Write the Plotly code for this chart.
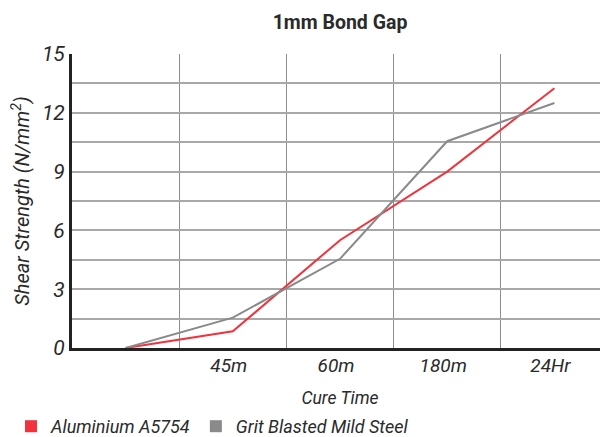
import plotly.graph_objects as go

categories = ["", "45m", "60m", "180m", "24Hr"]
aluminium = [0, 0.85, 5.5, 9.0, 13.25]
grit_steel = [0, 1.55, 4.55, 10.55, 12.5]
y_ticks = [0, 3, 6, 9, 12, 15]

RED = "#f2323c"
GRAY = "#8a8a8a"
FONT = "Liberation Sans Narrow, Roboto, sans-serif"
TXT = "#2a2a2a"

x = list(range(len(categories)))

fig = go.Figure()
fig.add_trace(go.Scatter(x=x, y=aluminium, mode="lines", line=dict(color=RED, width=2),
                         showlegend=False, name="Aluminium A5754"))
fig.add_trace(go.Scatter(x=x, y=grit_steel, mode="lines", line=dict(color=GRAY, width=2),
                         showlegend=False, name="Grit Blasted Mild Steel"))
# legend swatches
fig.add_trace(go.Scatter(x=[None], y=[None], mode="markers",
                         marker=dict(symbol="square", size=15, color=RED),
                         name="Aluminium A5754"))
fig.add_trace(go.Scatter(x=[None], y=[None], mode="markers",
                         marker=dict(symbol="square", size=15, color=GRAY),
                         name="Grit Blasted Mild Steel"))

fig.update_layout(
    width=600, height=437,
    margin=dict(l=64, r=0, t=46, b=97, autoexpand=False),
    paper_bgcolor="white", plot_bgcolor="white",
    font=dict(family=FONT, color=TXT),
    title=dict(text="<b>1mm Bond Gap</b>", x=0.5, xref="paper", y=0.968, yref="container",
               xanchor="center", yanchor="middle",
               font=dict(size=19.5, family=FONT, color=TXT)),
    legend=dict(orientation="h", xref="container", yref="container", x=0.005, y=0.0,
                xanchor="left", yanchor="bottom",
                font=dict(size=18, style="italic", family=FONT, color=TXT),
                itemsizing="constant", itemwidth=30, tracegroupgap=0),
    showlegend=True,
)

fig.update_xaxes(
    range=[-0.5, 4.5], tickmode="array", tickvals=x[1:], ticktext=categories[1:],
    showgrid=False, zeroline=False, automargin=False,
    showline=True, linecolor="#222222", linewidth=3,
    ticks="", tickfont=dict(size=19, style="italic", family=FONT, color=TXT),
    ticklabelshift=-4, ticklabelstandoff=-2,
    minor=dict(tickmode="array", tickvals=[0.5, 1.5, 2.5, 3.5], showgrid=True,
               gridcolor="#8c8c8c", gridwidth=1, ticks=""),
    title=dict(text="Cure Time", standoff=34,
               font=dict(size=17.5, style="italic", family=FONT, color=TXT)),
)
fig.update_yaxes(
    range=[0, 15], tickmode="array", tickvals=y_ticks,
    showgrid=True, gridcolor="#a8a8a8", gridwidth=1.5, zeroline=False, automargin=False,
    showline=True, linecolor="#222222", linewidth=3,
    ticks="", tickfont=dict(size=21, style="italic", family=FONT, color=TXT),
    minor=dict(dtick=1.5, showgrid=True, gridcolor="#a8a8a8", gridwidth=1.5, ticks=""),
    title=dict(text="Shear Strength (N/mm<sup>2</sup>)", standoff=9,
               font=dict(size=20, style="italic", family=FONT, color=TXT)),
)

fig.write_html("out.html")
